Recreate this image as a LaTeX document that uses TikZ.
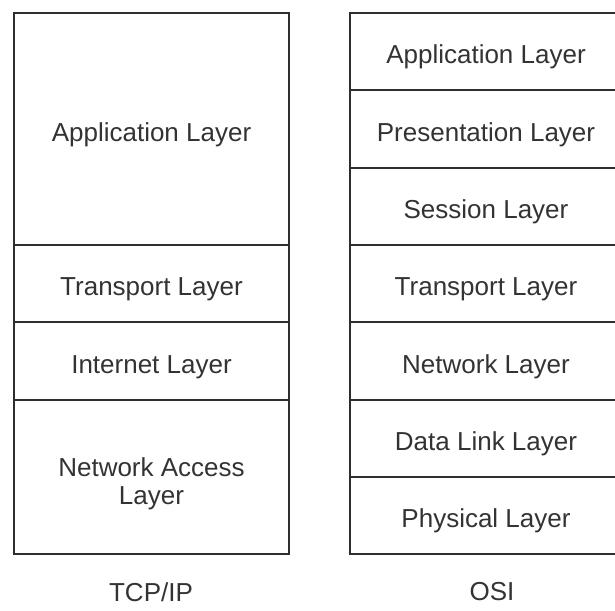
\documentclass[tikz,border=0pt]{standalone}
\usepackage{fontspec}
\setmainfont{Liberation Sans}
\definecolor{ink}{HTML}{2E2E2E}
\definecolor{txt}{HTML}{333333}
\begin{document}
\begin{tikzpicture}[x=1pt,y=-1pt,
  layer/.style={draw=ink,line width=2.6pt,minimum width=#1,inner sep=0pt,text=txt,font=\fontsize{26}{28}\selectfont,text height=24pt,text depth=0pt},
  boxonly/.style={draw=ink,line width=2.6pt,minimum width=#1,inner sep=0pt},
  captext/.style={text=txt,font=\fontsize{26}{28}\selectfont,align=center}]
\useasboundingbox (0,0) rectangle (615,610);
% TCP/IP column
\node[layer=275pt,minimum height=232pt] (tapp) at (151.5,129) {Application Layer};
\node[layer=275pt,minimum height=77pt] (ttra) at (151.5,283.5) {Transport Layer};
\node[layer=275pt,minimum height=78pt] (tint) at (151.5,361) {Internet Layer};
\node[boxonly=275pt,minimum height=154pt] (tnet) at (151.5,477) {};
\node[captext] (tnetlabel) at (151.5,484) {Network Access\\Layer};
% OSI column
\node[layer=272pt,minimum height=77pt] (oapp) at (486,51.5) {Application Layer};
\node[layer=272pt,minimum height=78pt] (opre) at (486,129) {Presentation Layer};
\node[layer=272pt,minimum height=77pt] (oses) at (486,206.5) {Session Layer};
\node[layer=272pt,minimum height=77pt] (otra) at (486,283.5) {Transport Layer};
\node[layer=272pt,minimum height=78pt] (onet) at (486,361) {Network Layer};
\node[layer=272pt,minimum height=77pt] (odat) at (486,438.5) {Data Link Layer};
\node[layer=272pt,minimum height=77pt] (ophy) at (486,515.5) {Physical Layer};
% captions
\node[captext] (tcap) at (151,592) {TCP/IP};
\node[captext] (ocap) at (492,592) {OSI};
\end{tikzpicture}
\end{document}
